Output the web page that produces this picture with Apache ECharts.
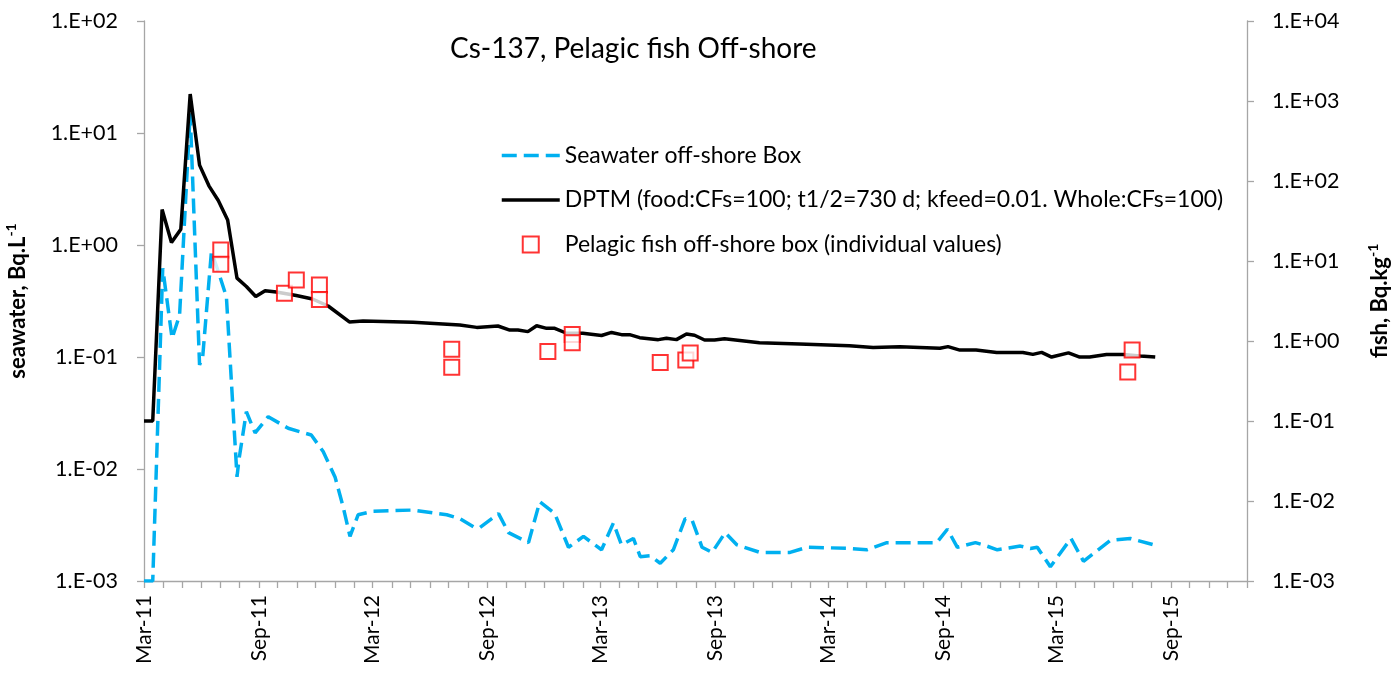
<!DOCTYPE html>
<html lang="en">
<head>
<meta charset="utf-8">
<title>Cs-137, Pelagic fish Off-shore</title>
<script src="https://cdn.jsdelivr.net/npm/echarts@6/dist/echarts.min.js"></script>
<style>
  html, body { margin: 0; padding: 0; background: #fff; }
  #main { width: 1394px; height: 674px; }
</style>
</head>
<body>
<div id="main"></div>
<script>
// month names used for the x tick labels (Mar-11, Sep-11, ...)
var monthNames = ['Jan', 'Feb', 'Mar', 'Apr', 'May', 'Jun', 'Jul', 'Aug', 'Sep', 'Oct', 'Nov', 'Dec'];

// seawater off-shore box, Bq/L (left axis)
var seawaterDates = [
  '2011-03-01', '2011-03-15', '2011-03-31', '2011-04-15', '2011-04-27', '2011-05-14', '2011-05-29', '2011-06-03',
  '2011-06-17', '2011-06-28', '2011-07-11', '2011-07-28', '2011-07-31', '2011-08-12', '2011-08-26', '2011-09-16',
  '2011-10-18', '2011-11-24', '2011-12-13', '2012-01-01', '2012-01-14', '2012-01-25', '2012-02-07', '2012-03-02',
  '2012-05-05', '2012-06-28', '2012-07-19', '2012-08-12', '2012-08-20', '2012-09-19', '2012-10-05', '2012-11-06',
  '2012-11-24', '2012-12-18', '2013-01-09', '2013-02-02', '2013-03-03', '2013-03-22', '2013-04-04', '2013-04-23',
  '2013-05-04', '2013-05-20', '2013-06-05', '2013-06-26', '2013-07-15', '2013-07-26', '2013-08-11', '2013-08-27',
  '2013-09-17', '2013-10-06', '2013-11-12', '2013-12-30', '2014-01-26', '2014-03-31', '2014-05-02', '2014-06-03',
  '2014-08-22', '2014-09-08', '2014-09-24', '2014-10-23', '2014-11-05', '2014-11-27', '2015-01-03', '2015-01-19',
  '2015-01-30', '2015-02-20', '2015-03-25', '2015-04-14', '2015-05-27', '2015-06-28', '2015-08-05'
];
var seawaterValues = [
  0.001, 0.001, 0.62, 0.147, 0.237, 15, 0.085, 0.1,
  0.87, 0.58, 0.345, 0.0085, 0.012, 0.0325, 0.021, 0.0293,
  0.0231, 0.0201, 0.0143, 0.0085, 0.0046, 0.0025, 0.0039, 0.0042,
  0.0043, 0.0039, 0.0036, 0.003, 0.003, 0.004, 0.0027, 0.0022,
  0.0051, 0.004, 0.002, 0.0025, 0.0019, 0.0033, 0.0021, 0.0024,
  0.00165, 0.00168, 0.00144, 0.0019, 0.0036, 0.0035, 0.002, 0.0018,
  0.0027, 0.0021, 0.0018, 0.0018, 0.002, 0.00196, 0.0019, 0.0022,
  0.0022, 0.0029, 0.002, 0.0022, 0.0021, 0.0019, 0.00205, 0.00195,
  0.002, 0.00134, 0.0024, 0.0015, 0.0023, 0.0024, 0.0021
];

// DPTM model, fish Bq/kg (right axis)
var modelDates = [
  '2011-03-01', '2011-03-15', '2011-03-30', '2011-04-14', '2011-04-29', '2011-05-14', '2011-05-29', '2011-06-13',
  '2011-06-28', '2011-07-13', '2011-07-28', '2011-08-12', '2011-08-27', '2011-09-11', '2011-09-29', '2011-10-31',
  '2011-11-26', '2011-12-21', '2012-01-24', '2012-02-15', '2012-05-05', '2012-07-19', '2012-08-15', '2012-09-18',
  '2012-10-07', '2012-10-20', '2012-11-05', '2012-11-19', '2012-12-05', '2012-12-18', '2013-01-06', '2013-02-01',
  '2013-03-03', '2013-03-19', '2013-04-04', '2013-04-17', '2013-05-03', '2013-06-02', '2013-06-15', '2013-07-01',
  '2013-07-17', '2013-07-30', '2013-08-15', '2013-08-31', '2013-09-16', '2013-11-11', '2014-01-14', '2014-04-04',
  '2014-05-12', '2014-06-24', '2014-08-27', '2014-09-09', '2014-09-28', '2014-10-24', '2014-11-26', '2015-01-07',
  '2015-01-23', '2015-02-06', '2015-02-22', '2015-03-21', '2015-04-08', '2015-04-24', '2015-05-21', '2015-06-17',
  '2015-07-14', '2015-08-07'
];
var modelValues = [
  0.1, 0.1, 44, 17, 25, 1220, 158, 87,
  57, 32.5, 6.1, 4.8, 3.6, 4.26, 4.1, 3.7,
  3.35, 2.74, 1.73, 1.78, 1.72, 1.58, 1.48, 1.54,
  1.37, 1.37, 1.31, 1.55, 1.44, 1.44, 1.25, 1.25,
  1.17, 1.28, 1.2, 1.2, 1.1, 1.04, 1.08, 1.04,
  1.22, 1.18, 1.03, 1.03, 1.07, 0.95, 0.92, 0.87,
  0.83, 0.85, 0.81, 0.85, 0.77, 0.77, 0.72, 0.72,
  0.68, 0.72, 0.63, 0.71, 0.63, 0.63, 0.68, 0.68,
  0.65, 0.63
];

// pelagic fish off-shore box, individual values, Bq/kg (right axis)
var fishDates = [
  '2011-07-02', '2011-07-02', '2011-10-12', '2011-10-31', '2011-12-07', '2011-12-07', '2012-07-06', '2012-07-06',
  '2012-12-07', '2013-01-15', '2013-01-15', '2013-06-05', '2013-07-16', '2013-07-23', '2015-06-24', '2015-07-01'
];
var fishValues = [
  13.7, 9.1, 3.95, 5.8, 5.0, 3.3, 0.79, 0.47,
  0.74, 1.21, 0.95, 0.54, 0.58, 0.71, 0.41, 0.77
];

var FONT = 'Lato';
var axisGrey = '#a6a6a6';

function toTime(s) {
  var p = s.split('-');
  return new Date(+p[0], +p[1] - 1, +p[2]).getTime();
}
function pairs(d, v) {
  return d.map(function (x, i) { return [toTime(x), v[i]]; });
}
function sci(v) {
  var e = Math.round(Math.log(v) / Math.LN10);
  var a = Math.abs(e);
  return '1.E' + (e < 0 ? '-' : '+') + (a < 10 ? '0' : '') + a;
}

var xMin = new Date(2011, 2, 1).getTime();
var xMax = new Date(2016, 0, 1).getTime();
var monthTicks = [], halfYearTicks = [];
for (var y = 2011; y <= 2016; y++) {
  for (var m = 0; m < 12; m++) {
    var t = new Date(y, m, 1).getTime();
    if (t < xMin || t > xMax) continue;
    monthTicks.push(t);
    if (m === 2 || m === 8) halfYearTicks.push(t);
  }
}

var axisNameRich = {
  b: { fontFamily: FONT, fontSize: 22, fontWeight: 'bold', color: '#000', lineHeight: 28 },
  s: { fontFamily: FONT, fontSize: 14, fontWeight: 'bold', color: '#000', verticalAlign: 'top', lineHeight: 28 }
};

var chart = echarts.init(document.getElementById('main'));
chart.setOption({
  animation: false,
  backgroundColor: '#fff',
  title: {
    text: 'Cs-137, Pelagic fish Off-shore',
    left: 445,
    top: 30,
    textStyle: { fontFamily: FONT, fontSize: 28, fontWeight: 'normal', color: '#000' }
  },
  legend: {
    orient: 'vertical',
    left: 495,
    top: 137,
    itemWidth: 58,
    itemHeight: 16,
    itemGap: 17.5,
    lineStyle: { width: 3.5 },
    textStyle: { fontFamily: FONT, fontSize: 23, color: '#000', lineHeight: 27 },
    data: [
      { name: 'Seawater off-shore Box', itemStyle: { opacity: 0 } },
      { name: 'DPTM (food:CFs=100; t1/2=730 d; kfeed=0.01. Whole:CFs=100)', itemStyle: { opacity: 0 } },
      { name: 'Pelagic fish off-shore box (individual values)', icon: 'path://M0 0H10V10H0Z' }
    ]
  },
  grid: { left: 144, right: 147, top: 21, bottom: 93, outerBoundsMode: 'none' },
  xAxis: {
    type: 'value',
    min: xMin,
    max: xMax,
    splitLine: { show: false },
    axisLine: { lineStyle: { color: axisGrey, width: 1.3 } },
    axisTick: { customValues: monthTicks, length: 7, lineStyle: { color: axisGrey, width: 1.3 } },
    axisLabel: {
      customValues: halfYearTicks,
      rotate: 90,
      margin: 14,
      fontFamily: FONT,
      fontSize: 21,
      color: '#000',
      formatter: function (v) {
        var d = new Date(v);
        return monthNames[d.getMonth()] + '-' + String(d.getFullYear()).slice(2);
      }
    }
  },
  yAxis: [
    {
      type: 'log',
      logBase: 10,
      min: 0.001,
      max: 100,
      splitNumber: 5,
      position: 'left',
      splitLine: { show: false },
      axisLine: { show: true, lineStyle: { color: axisGrey, width: 1.3 } },
      axisTick: { show: true, length: 7, lineStyle: { color: axisGrey, width: 1.3 } },
      axisLabel: { formatter: sci, margin: 26, fontFamily: FONT, fontSize: 21.5, color: '#000' },
      name: '{b|seawater, Bq.L}{s|-1}',
      nameLocation: 'middle',
      nameRotate: 90,
      nameGap: 112,
      nameTextStyle: { rich: axisNameRich }
    },
    {
      type: 'log',
      logBase: 10,
      min: 0.001,
      max: 10000,
      splitNumber: 7,
      position: 'right',
      splitLine: { show: false },
      axisLine: { show: true, lineStyle: { color: axisGrey, width: 1.3 } },
      axisTick: { show: true, length: 7, lineStyle: { color: axisGrey, width: 1.3 } },
      axisLabel: { formatter: sci, margin: 25, fontFamily: FONT, fontSize: 21.5, color: '#000' },
      name: '{b|fish, Bq.kg}{s|-1}',
      nameLocation: 'middle',
      nameRotate: 90,
      nameGap: 119,
      nameTextStyle: { rich: axisNameRich }
    }
  ],
  series: [
    {
      name: 'Seawater off-shore Box',
      type: 'line',
      yAxisIndex: 0,
      z: 2,
      symbol: 'none',
      color: '#00b0f0',
      lineStyle: { color: '#00b0f0', width: 3.5, type: [15, 7] },
      data: pairs(seawaterDates, seawaterValues)
    },
    {
      name: 'DPTM (food:CFs=100; t1/2=730 d; kfeed=0.01. Whole:CFs=100)',
      type: 'line',
      yAxisIndex: 1,
      z: 3,
      symbol: 'none',
      color: '#000',
      lineStyle: { color: '#000', width: 3.5 },
      data: pairs(modelDates, modelValues)
    },
    {
      name: 'Pelagic fish off-shore box (individual values)',
      type: 'scatter',
      yAxisIndex: 1,
      z: 4,
      symbol: 'rect',
      symbolSize: 15,
      itemStyle: { color: '#fff', borderColor: '#ff0000', borderWidth: 2 },
      data: pairs(fishDates, fishValues)
    }
  ]
});
</script>
</body>
</html>
